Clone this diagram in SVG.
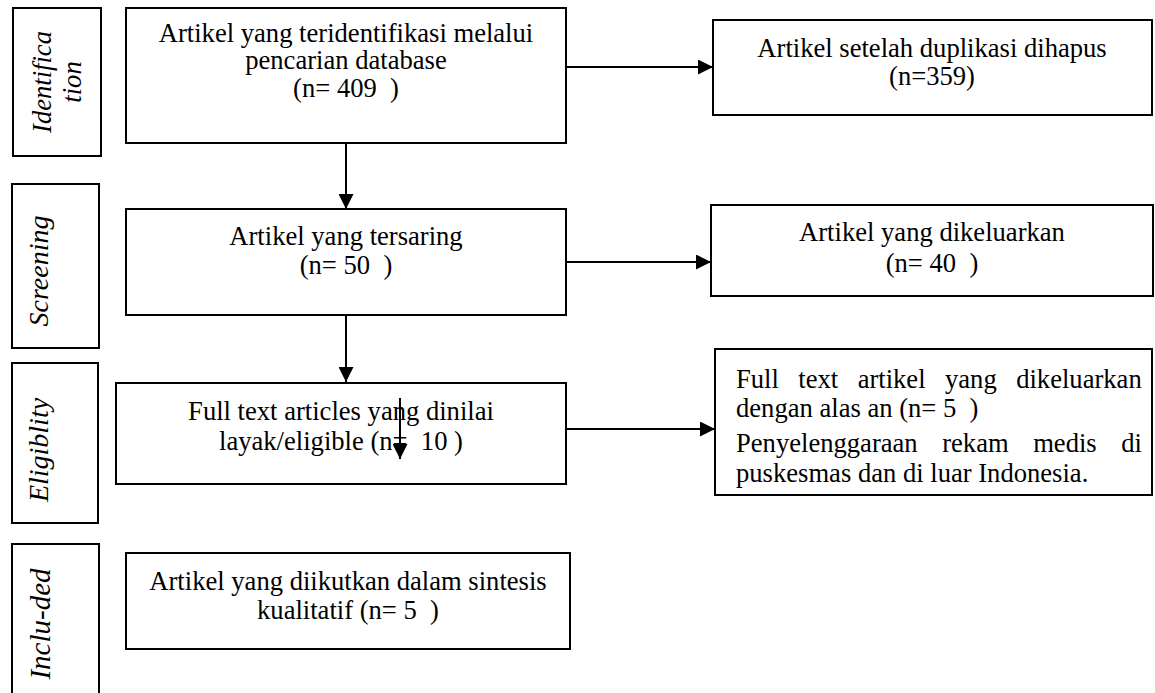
<svg xmlns="http://www.w3.org/2000/svg" width="1155" height="693" viewBox="0 0 1155 693">
<style>
.box{fill:#fff;stroke:#000;stroke-width:2}
.t{font-size:26.6px;fill:#000;text-anchor:middle}
.tl{font-size:26.6px;fill:#000}
.lab{font-style:italic;fill:#000;text-anchor:middle}
.c{stroke:#000;stroke-width:2;fill:none}
</style>
<defs>
<marker id="ah" markerWidth="15" markerHeight="15" refX="15" refY="7.5" orient="auto" markerUnits="userSpaceOnUse">
<path d="M0,0 L15,7.5 L0,15 Z" fill="#000"/>
</marker>
</defs>
<rect width="1155" height="693" fill="#fff"/>
<g id="label-identification">
<rect class="box" x="13" y="8" width="88" height="148"/>
<text class="lab" font-family="Liberation Serif, serif" font-size="26.6" transform="translate(51,82) rotate(-90)">Identifica</text>
<text class="lab" font-family="Liberation Serif, serif" font-size="26.6" transform="translate(81,82) rotate(-90)">tion</text>
</g>
<g id="label-screening">
<rect class="box" x="12" y="184" width="87" height="164"/>
<text class="lab" font-family="Liberation Serif, serif" font-size="28" transform="translate(48,271) rotate(-90)">Screening</text>
</g>
<g id="label-eligibility">
<rect class="box" x="12" y="363" width="86" height="160"/>
<text class="lab" font-family="Liberation Serif, serif" font-size="28" transform="translate(48,450) rotate(-90)">Eligiblity</text>
</g>
<g id="label-included">
<rect class="box" x="12" y="544" width="87" height="160"/>
<text class="lab" font-family="Liberation Serif, serif" font-size="29" transform="translate(50,624) rotate(-90)">Inclu-ded</text>
</g>
<g id="n-identified">
<rect class="box" x="126" y="8" width="440" height="135"/>
<text class="t" font-family="Liberation Serif, serif" x="346" y="42">Artikel yang teridentifikasi melalui</text>
<text class="t" font-family="Liberation Serif, serif" x="346" y="69">pencarian database</text>
<text class="t" font-family="Liberation Serif, serif" x="346" y="97">(n= 409&#160; )</text>
</g>
<g id="n-duplicates">
<rect class="box" x="713" y="20" width="439" height="95"/>
<text class="t" font-family="Liberation Serif, serif" x="932" y="57">Artikel setelah duplikasi dihapus</text>
<text class="t" font-family="Liberation Serif, serif" x="932" y="85">(n=359)</text>
</g>
<g id="n-screened">
<rect class="box" x="126" y="209" width="440" height="106"/>
<text class="t" font-family="Liberation Serif, serif" x="346" y="245">Artikel yang tersaring</text>
<text class="t" font-family="Liberation Serif, serif" x="346" y="274">(n= 50&#160; )</text>
</g>
<g id="n-excluded">
<rect class="box" x="711" y="205" width="442" height="91"/>
<text class="t" font-family="Liberation Serif, serif" x="932" y="241">Artikel yang dikeluarkan</text>
<text class="t" font-family="Liberation Serif, serif" x="932" y="272">(n= 40&#160; )</text>
</g>
<g id="n-eligible">
<rect class="box" x="116" y="383" width="450" height="101"/>
<text class="t" font-family="Liberation Serif, serif" x="341" y="420">Full text articles yang dinilai</text>
<text class="t" font-family="Liberation Serif, serif" x="341" y="450">layak/eligible (n=&#160; 10 )</text>
</g>
<g id="n-fulltext-excluded">
<rect class="box" x="715" y="349" width="437" height="146"/>
<text class="tl" font-family="Liberation Serif, serif" x="736" y="388" word-spacing="12.8">Full text artikel yang dikeluarkan</text>
<text class="tl" font-family="Liberation Serif, serif" x="736" y="417">dengan alas an (n= 5&#160; )</text>
<text class="tl" font-family="Liberation Serif, serif" x="736" y="452" word-spacing="17.9">Penyelenggaraan rekam medis di</text>
<text class="tl" font-family="Liberation Serif, serif" x="736" y="482">puskesmas dan di luar Indonesia.</text>
</g>
<g id="n-included">
<rect class="box" x="126" y="553" width="444" height="96"/>
<text class="t" font-family="Liberation Serif, serif" x="348" y="590">Artikel yang diikutkan dalam sintesis</text>
<text class="t" font-family="Liberation Serif, serif" x="348" y="619">kualitatif (n= 5&#160; )</text>
</g>
<g id="connectors">
<line class="c" x1="566" y1="67" x2="713" y2="67" marker-end="url(#ah)"/>
<line class="c" x1="346" y1="143" x2="346" y2="209" marker-end="url(#ah)"/>
<line class="c" x1="566" y1="262" x2="711" y2="262" marker-end="url(#ah)"/>
<line class="c" x1="346" y1="315" x2="346" y2="382" marker-end="url(#ah)"/>
<line class="c" x1="566" y1="429" x2="715" y2="429" marker-end="url(#ah)"/>
<line class="c" x1="400" y1="398" x2="400" y2="459" marker-end="url(#ah)"/>
</g>
</svg>
